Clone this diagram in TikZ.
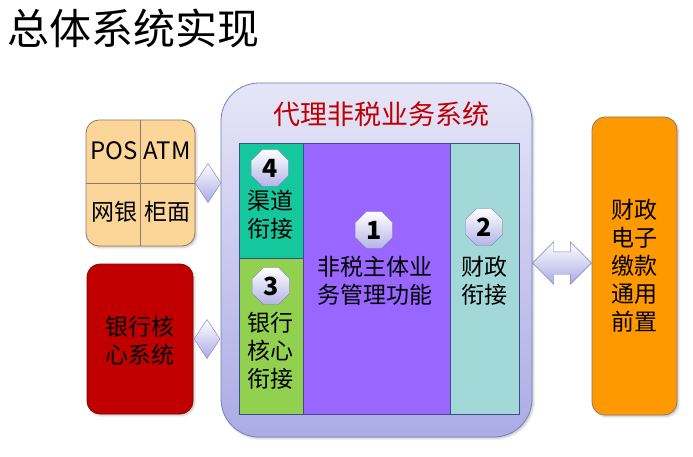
\documentclass[tikz,border=0pt]{standalone}
\usepackage{fontspec}
\setmainfont{Noto Sans CJK SC}
\usetikzlibrary{shadows.blur,shapes.geometric,shapes.arrows,positioning,calc}
\definecolor{sysLav}{HTML}{E6E6F8}
\definecolor{sysLavDark}{HTML}{ABABE6}
\definecolor{sysEdge}{HTML}{7C7CB8}
\definecolor{sysRed}{HTML}{C00000}
\definecolor{panelEdge}{HTML}{3F4C8A}
\definecolor{chanTeal}{HTML}{14C79C}
\definecolor{coreGreen}{HTML}{92D050}
\definecolor{mainPurple}{HTML}{9966FF}
\definecolor{finTeal}{HTML}{A3D8D8}
\definecolor{posTan}{HTML}{FCD699}
\definecolor{posEdge}{HTML}{8E7A68}
\definecolor{frontOrange}{HTML}{FF9900}
\definecolor{badgeLav}{HTML}{B4B4E6}
\newcommand{\bodyfont}{\fontsize{23}{28}\selectfont}

\tikzset{
  box/.style={draw=#1,line width=0.8pt,rounded corners=13pt,inner sep=0pt,
    blur shadow={shadow xshift=1.5pt,shadow yshift=-1.5pt,shadow opacity=25}},
  panel/.style={draw=panelEdge,line width=0.7pt,fill=#1,inner sep=0pt},
  label/.style={align=center,font=\bodyfont,inner sep=0pt},
  numbadge/.style={regular polygon,regular polygon sides=8,minimum size=40pt,inner sep=0pt,
    draw=sysEdge,top color=white,bottom color=badgeLav,
    font=\fontsize{25}{25}\selectfont\bfseries},
  joint/.style={diamond,draw=sysEdge,top color=white,bottom color=sysLavDark,
    minimum width=26pt,minimum height=39pt,aspect=0.67,inner sep=0pt},
}

\begin{document}
\begin{tikzpicture}[x=1pt,y=-1pt]
  \useasboundingbox (0,0) rectangle (693,457);

  \node[anchor=west,inner sep=0pt,font=\fontsize{42}{42}\selectfont] (title) at (7,28) {总体系统实现};

  % agent system
  \node[box=sysEdge,rounded corners=38pt,top color=sysLav,bottom color=sysLavDark,
    minimum width=311pt,minimum height=354pt] (sys) at (376.5,260) {};
  \node[font=\fontsize{27}{27}\selectfont,text=sysRed,inner sep=0pt] (systitle) at (381,114) {代理非税业务系统};

  \node[panel=chanTeal,minimum width=64pt,minimum height=115pt] (chan) at (271,200.5) {};
  \node[panel=coreGreen,minimum width=64pt,minimum height=156pt] (core) at (271,336) {};
  \node[panel=mainPurple,minimum width=147pt,minimum height=271pt] (main) at (376.5,278.5) {};
  \node[panel=finTeal,minimum width=69pt,minimum height=271pt] (fin) at (484.5,278.5) {};

  \node[numbadge] (b4) at (270,168) {4};
  \node[label] (chantext) at (270,215) {渠道\\衔接};
  \node[numbadge] (b3) at (271,286) {3};
  \node[label] (coretext) at (270,351) {银行\\核心\\衔接};
  \node[numbadge] (b1) at (374,230) {1};
  \node[label] (maintext) at (375,281) {非税主体业\\务管理功能};
  \node[numbadge] (b2) at (484,227) {2};
  \node[label] (fintext) at (484,281) {财政\\衔接};

  % channels
  \node[box=posEdge,fill=posTan,minimum width=109pt,minimum height=126pt] (pos) at (140.5,183) {};
  \draw[posEdge,line width=0.5pt] (pos.north) -- (pos.south) (pos.west) -- (pos.east);
  \node[label,font=\fontsize{24}{24}\selectfont] (postext) at (114,151) {POS};
  \node[label,font=\fontsize{24}{24}\selectfont] (atmtext) at (167,151) {ATM};
  \node[label] (nettext) at (114,212) {网银};
  \node[label] (countertext) at (167,212) {柜面};

  \node[box=sysRed!70!black,fill=sysRed,minimum width=106pt,minimum height=150pt] (bank) at (140,339) {};
  \node[label] (banktext) at (140,341) {银行核\\心系统};

  \node[box=posEdge,fill=frontOrange,minimum width=85pt,minimum height=298pt] (front) at (634.5,266) {};
  \node[label] (fronttext) at (634.5,266) {财政\\电子\\缴款\\通用\\前置};

  % links
  \node[joint] (j1) at ($(pos.east)!0.5!(pos.east -| sys.west)$) {};
  \node[joint] (j2) at ($(bank.east)!0.5!(bank.east -| sys.west)$) {};
  \node[double arrow,draw=sysEdge,top color=white,bottom color=sysLavDark,
    inner xsep=0pt,inner ysep=11pt,minimum height=59pt,double arrow head extend=10pt] (link)
    at ($(sys.east)!0.5!(front.west)$) {};
\end{tikzpicture}
\end{document}
